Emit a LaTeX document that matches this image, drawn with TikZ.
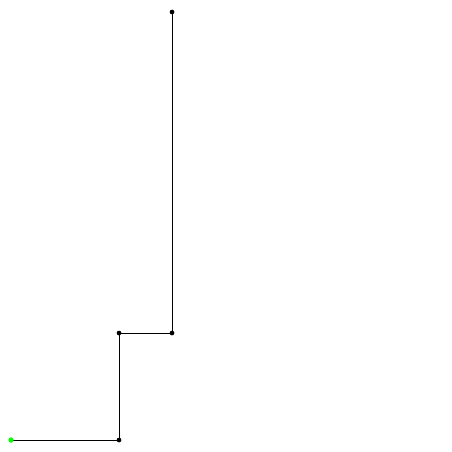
\documentclass[tikz,border=0pt]{standalone}
\begin{document}
\begin{tikzpicture}[x=1pt,y=-1pt,
  seg/.style={line width=1pt,black},
  vtx/.style={circle,fill=black,inner sep=0pt,minimum size=4.5pt},
  startvtx/.style={circle,fill=green,inner sep=0pt,minimum size=5pt}]
\useasboundingbox (0,0) rectangle (452,452);
\node[startvtx] (p0) at (11,440) {};
\node[vtx] (p1) at (119,440) {};
\node[vtx] (p2) at (119,333) {};
\node[vtx] (p3) at (172,333) {};
\node[vtx] (p4) at (172,12) {};
\draw[seg] (p0.center) -- (p1.center) -- (p2.center) -- (p3.center) -- (p4.center);
\node[startvtx] at (p0) {};
\foreach \n in {p1,p2,p3,p4} \node[vtx] at (\n) {};
\end{tikzpicture}
\end{document}
